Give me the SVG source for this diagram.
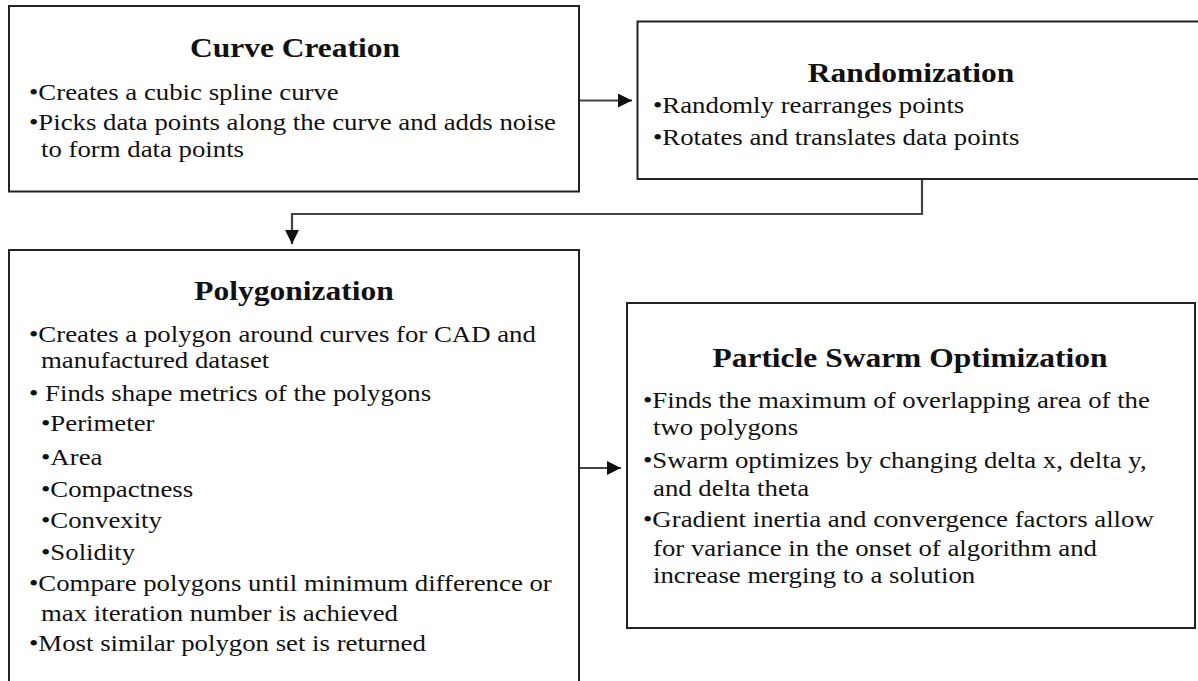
<svg xmlns="http://www.w3.org/2000/svg" width="1198" height="681" viewBox="0 0 1198 681">
<style>
.box{fill:#fff;stroke:#222;stroke-width:2}
.t{font-family:"Liberation Serif","Times New Roman",serif;font-weight:bold;font-size:27.5px;text-anchor:middle;fill:#111}
.b{font-family:"Liberation Serif","Times New Roman",serif;font-size:23.5px;fill:#111}
.c{fill:none;stroke:#444;stroke-width:2.2}
</style>
<defs>
<marker id="ah" markerWidth="14" markerHeight="14" viewBox="0 0 14 14" refX="14" refY="7" orient="auto" markerUnits="userSpaceOnUse">
<path d="M0,0 L14,7 L0,14 Z" fill="#111"/>
</marker>
</defs>
<rect width="1198" height="681" fill="#fff"/>
<g id="connectors">
<line class="c" x1="580" y1="100.5" x2="632" y2="100.5" marker-end="url(#ah)"/>
<polyline class="c" points="922,180 922,214 292,214 292,244" marker-end="url(#ah)"/>
<line class="c" x1="580" y1="468" x2="621" y2="468" marker-end="url(#ah)"/>
</g>
<g id="curve-creation">
<rect class="box" x="9" y="6" width="570" height="185.5"/>
<text class="t" transform="translate(295,57) scale(1.145,1)">Curve Creation</text>
<text class="b" transform="translate(29,100) scale(1.14,1)">•Creates a cubic spline curve</text>
<text class="b" transform="translate(29,130) scale(1.14,1)">•Picks data points along the curve and adds noise</text>
<text class="b" transform="translate(41,157) scale(1.14,1)">to form data points</text>
</g>
<g id="randomization">
<rect class="box" x="637.5" y="21.5" width="570" height="157.5"/>
<text class="t" transform="translate(911,82) scale(1.145,1)">Randomization</text>
<text class="b" transform="translate(653,113) scale(1.14,1)">•Randomly rearranges points</text>
<text class="b" transform="translate(653,145) scale(1.14,1)">•Rotates and translates data points</text>
</g>
<g id="polygonization">
<rect class="box" x="9" y="250" width="570" height="450"/>
<text class="t" transform="translate(294,300) scale(1.145,1)">Polygonization</text>
<text class="b" transform="translate(29,342) scale(1.14,1)">•Creates a polygon around curves for CAD and</text>
<text class="b" transform="translate(41,368) scale(1.14,1)">manufactured dataset</text>
<text class="b" transform="translate(29,401) scale(1.14,1)">• Finds shape metrics of the polygons</text>
<text class="b" transform="translate(41,431) scale(1.14,1)">•Perimeter</text>
<text class="b" transform="translate(41,465) scale(1.14,1)">•Area</text>
<text class="b" transform="translate(41,497) scale(1.14,1)">•Compactness</text>
<text class="b" transform="translate(41,528) scale(1.14,1)">•Convexity</text>
<text class="b" transform="translate(41,560) scale(1.14,1)">•Solidity</text>
<text class="b" transform="translate(29,591) scale(1.14,1)">•Compare polygons until minimum difference or</text>
<text class="b" transform="translate(41,621) scale(1.14,1)">max iteration number is achieved</text>
<text class="b" transform="translate(29,651) scale(1.14,1)">•Most similar polygon set is returned</text>
</g>
<g id="particle-swarm-optimization">
<rect class="box" x="627" y="303" width="568" height="325"/>
<text class="t" transform="translate(910,367) scale(1.145,1)">Particle Swarm Optimization</text>
<text class="b" transform="translate(643,408) scale(1.14,1)">•Finds the maximum of overlapping area of the</text>
<text class="b" transform="translate(653,435) scale(1.14,1)">two polygons</text>
<text class="b" transform="translate(643,468) scale(1.14,1)">•Swarm optimizes by changing delta x, delta y,</text>
<text class="b" transform="translate(653,496) scale(1.14,1)">and delta theta</text>
<text class="b" transform="translate(643,527) scale(1.14,1)">•Gradient inertia and convergence factors allow</text>
<text class="b" transform="translate(653,556) scale(1.14,1)">for variance in the onset of algorithm and</text>
<text class="b" transform="translate(653,583) scale(1.14,1)">increase merging to a solution</text>
</g>
</svg>
